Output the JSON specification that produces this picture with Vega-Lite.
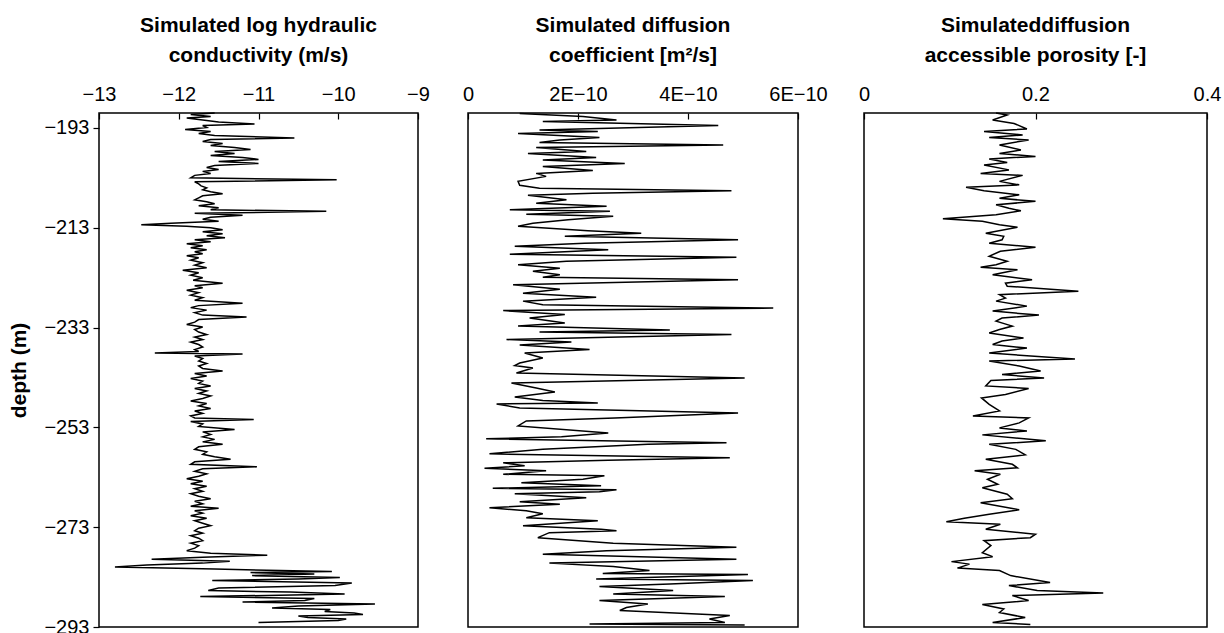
{
 "$schema": "https://vega.github.io/schema/vega-lite/v6.json",
 "padding": {"left": 8, "top": 14, "right": 0, "bottom": 5},
 "background": "white",
 "config": {
  "font": "Liberation Sans",
  "view": {"stroke": "black", "strokeWidth": 1.5},
  "axis": {"domain": false, "grid": false, "labelFont": "Liberation Sans", "labelFontSize": 20, "labelColor": "black", "tickColor": "black", "tickWidth": 1.2, "titleFont": "Liberation Sans", "titleFontSize": 21, "titleFontWeight": "bold", "titleColor": "black", "labelFlush": false, "labelOverlap": false},
  "title": {"font": "Liberation Sans", "fontSize": 21, "fontWeight": "bold", "color": "black", "lineHeight": 30, "anchor": "middle", "offset": 18}
 },
 "datasets": {
  "k": [
   {"depth": -190.0, "value": -11.55}, {"depth": -190.3, "value": -11.85}, {"depth": -190.7, "value": -11.6}, {"depth": -191.0, "value": -11.9}, {"depth": -191.4, "value": -11.7}, {"depth": -191.8, "value": -11.5}, {"depth": -192.2, "value": -11.05}, {"depth": -192.5, "value": -11.7}, {"depth": -192.9, "value": -11.65}, {"depth": -193.3, "value": -11.92}, {"depth": -193.7, "value": -11.6}, {"depth": -194.1, "value": -11.75}, {"depth": -194.5, "value": -11.55}, {"depth": -195.0, "value": -10.55}, {"depth": -195.3, "value": -11.6}, {"depth": -195.7, "value": -11.7}, {"depth": -196.1, "value": -11.45}, {"depth": -196.5, "value": -11.6}, {"depth": -196.9, "value": -11.3}, {"depth": -197.3, "value": -11.1}, {"depth": -197.7, "value": -11.55}, {"depth": -198.1, "value": -11.3}, {"depth": -198.5, "value": -11.6}, {"depth": -198.9, "value": -11.2}, {"depth": -199.3, "value": -11.0}, {"depth": -199.7, "value": -11.5}, {"depth": -200.1, "value": -11.0}, {"depth": -200.5, "value": -11.55}, {"depth": -200.9, "value": -11.65}, {"depth": -201.3, "value": -11.5}, {"depth": -201.7, "value": -11.7}, {"depth": -202.1, "value": -11.6}, {"depth": -202.5, "value": -11.8}, {"depth": -203.0, "value": -11.85}, {"depth": -203.4, "value": -10.02}, {"depth": -203.8, "value": -11.8}, {"depth": -204.2, "value": -11.75}, {"depth": -204.6, "value": -11.72}, {"depth": -205.0, "value": -11.65}, {"depth": -205.4, "value": -11.7}, {"depth": -205.8, "value": -11.6}, {"depth": -206.2, "value": -11.45}, {"depth": -206.6, "value": -11.7}, {"depth": -207.0, "value": -11.75}, {"depth": -207.4, "value": -11.8}, {"depth": -207.8, "value": -11.65}, {"depth": -208.2, "value": -11.55}, {"depth": -208.6, "value": -11.75}, {"depth": -209.0, "value": -11.5}, {"depth": -209.4, "value": -11.6}, {"depth": -209.7, "value": -10.15}, {"depth": -210.1, "value": -11.8}, {"depth": -210.5, "value": -11.2}, {"depth": -210.9, "value": -11.6}, {"depth": -211.3, "value": -11.7}, {"depth": -211.7, "value": -11.5}, {"depth": -212.1, "value": -12.1}, {"depth": -212.4, "value": -12.47}, {"depth": -212.7, "value": -11.9}, {"depth": -213.0, "value": -11.6}, {"depth": -213.4, "value": -11.45}, {"depth": -213.8, "value": -11.7}, {"depth": -214.2, "value": -11.45}, {"depth": -214.6, "value": -11.65}, {"depth": -215.0, "value": -11.42}, {"depth": -215.4, "value": -11.8}, {"depth": -215.8, "value": -11.6}, {"depth": -216.2, "value": -11.9}, {"depth": -216.6, "value": -11.7}, {"depth": -217.0, "value": -11.85}, {"depth": -217.4, "value": -11.65}, {"depth": -217.8, "value": -11.8}, {"depth": -218.2, "value": -11.7}, {"depth": -218.6, "value": -11.9}, {"depth": -219.0, "value": -11.75}, {"depth": -219.5, "value": -11.85}, {"depth": -220.0, "value": -11.7}, {"depth": -220.5, "value": -11.8}, {"depth": -221.0, "value": -11.65}, {"depth": -221.5, "value": -11.95}, {"depth": -222.0, "value": -11.75}, {"depth": -222.5, "value": -11.85}, {"depth": -223.0, "value": -11.7}, {"depth": -223.5, "value": -11.82}, {"depth": -224.1, "value": -11.45}, {"depth": -224.6, "value": -11.8}, {"depth": -225.0, "value": -11.7}, {"depth": -225.5, "value": -11.9}, {"depth": -226.0, "value": -11.75}, {"depth": -226.5, "value": -11.85}, {"depth": -227.0, "value": -11.7}, {"depth": -227.5, "value": -11.8}, {"depth": -228.1, "value": -11.2}, {"depth": -228.6, "value": -11.75}, {"depth": -229.0, "value": -11.85}, {"depth": -229.5, "value": -11.65}, {"depth": -230.0, "value": -11.8}, {"depth": -230.5, "value": -11.7}, {"depth": -230.9, "value": -11.15}, {"depth": -231.4, "value": -11.75}, {"depth": -231.9, "value": -11.8}, {"depth": -232.4, "value": -11.9}, {"depth": -232.9, "value": -11.7}, {"depth": -233.4, "value": -11.8}, {"depth": -233.9, "value": -11.75}, {"depth": -234.4, "value": -11.65}, {"depth": -234.9, "value": -11.8}, {"depth": -235.4, "value": -11.7}, {"depth": -235.9, "value": -11.85}, {"depth": -236.4, "value": -11.75}, {"depth": -236.9, "value": -11.7}, {"depth": -237.4, "value": -11.8}, {"depth": -237.8, "value": -11.75}, {"depth": -238.1, "value": -12.3}, {"depth": -238.3, "value": -11.2}, {"depth": -238.7, "value": -11.8}, {"depth": -239.2, "value": -11.7}, {"depth": -239.7, "value": -11.75}, {"depth": -240.2, "value": -11.65}, {"depth": -240.7, "value": -11.75}, {"depth": -241.2, "value": -11.7}, {"depth": -241.7, "value": -11.45}, {"depth": -242.2, "value": -11.8}, {"depth": -242.7, "value": -11.65}, {"depth": -243.2, "value": -11.85}, {"depth": -243.7, "value": -11.7}, {"depth": -244.2, "value": -11.75}, {"depth": -244.7, "value": -11.6}, {"depth": -245.2, "value": -11.8}, {"depth": -245.7, "value": -11.65}, {"depth": -246.2, "value": -11.75}, {"depth": -246.7, "value": -11.6}, {"depth": -247.2, "value": -11.7}, {"depth": -247.7, "value": -11.85}, {"depth": -248.2, "value": -11.65}, {"depth": -248.7, "value": -11.75}, {"depth": -249.2, "value": -11.6}, {"depth": -249.7, "value": -11.8}, {"depth": -250.2, "value": -11.7}, {"depth": -250.7, "value": -11.85}, {"depth": -251.1, "value": -11.8}, {"depth": -251.4, "value": -11.06}, {"depth": -251.8, "value": -11.85}, {"depth": -252.3, "value": -11.7}, {"depth": -252.8, "value": -11.75}, {"depth": -253.4, "value": -11.3}, {"depth": -253.9, "value": -11.7}, {"depth": -254.4, "value": -11.6}, {"depth": -254.9, "value": -11.7}, {"depth": -255.4, "value": -11.55}, {"depth": -255.9, "value": -11.7}, {"depth": -256.4, "value": -11.45}, {"depth": -256.9, "value": -11.75}, {"depth": -257.4, "value": -11.8}, {"depth": -257.9, "value": -11.65}, {"depth": -258.4, "value": -11.7}, {"depth": -258.9, "value": -11.55}, {"depth": -259.4, "value": -11.35}, {"depth": -259.9, "value": -11.8}, {"depth": -260.4, "value": -11.85}, {"depth": -260.9, "value": -11.02}, {"depth": -261.3, "value": -11.7}, {"depth": -261.8, "value": -11.8}, {"depth": -262.3, "value": -11.65}, {"depth": -262.8, "value": -11.75}, {"depth": -263.3, "value": -11.9}, {"depth": -263.8, "value": -11.7}, {"depth": -264.3, "value": -11.85}, {"depth": -264.8, "value": -11.65}, {"depth": -265.3, "value": -11.8}, {"depth": -265.8, "value": -11.7}, {"depth": -266.3, "value": -11.85}, {"depth": -266.8, "value": -11.75}, {"depth": -267.3, "value": -11.6}, {"depth": -267.8, "value": -11.8}, {"depth": -268.3, "value": -11.7}, {"depth": -268.8, "value": -11.85}, {"depth": -269.2, "value": -11.5}, {"depth": -269.7, "value": -11.8}, {"depth": -270.2, "value": -11.7}, {"depth": -270.7, "value": -11.85}, {"depth": -271.2, "value": -11.65}, {"depth": -271.7, "value": -11.8}, {"depth": -272.2, "value": -11.7}, {"depth": -272.7, "value": -11.6}, {"depth": -273.2, "value": -11.75}, {"depth": -273.7, "value": -11.8}, {"depth": -274.2, "value": -11.7}, {"depth": -274.7, "value": -11.85}, {"depth": -275.2, "value": -11.75}, {"depth": -275.7, "value": -11.7}, {"depth": -276.2, "value": -11.85}, {"depth": -276.7, "value": -11.75}, {"depth": -277.2, "value": -11.8}, {"depth": -277.7, "value": -11.9}, {"depth": -278.2, "value": -11.6}, {"depth": -278.6, "value": -10.89}, {"depth": -279.0, "value": -11.7}, {"depth": -279.4, "value": -12.34}, {"depth": -279.8, "value": -11.36}, {"depth": -280.2, "value": -11.7}, {"depth": -280.6, "value": -12.4}, {"depth": -281.0, "value": -12.8}, {"depth": -281.4, "value": -11.55}, {"depth": -281.9, "value": -10.08}, {"depth": -282.1, "value": -11.1}, {"depth": -282.4, "value": -10.3}, {"depth": -282.7, "value": -11.08}, {"depth": -283.1, "value": -9.98}, {"depth": -283.4, "value": -10.5}, {"depth": -283.7, "value": -11.58}, {"depth": -284.2, "value": -9.83}, {"depth": -284.7, "value": -10.04}, {"depth": -285.2, "value": -11.5}, {"depth": -285.7, "value": -11.63}, {"depth": -286.0, "value": -10.6}, {"depth": -286.4, "value": -9.92}, {"depth": -286.9, "value": -11.73}, {"depth": -287.3, "value": -10.3}, {"depth": -287.7, "value": -10.42}, {"depth": -288.0, "value": -11.2}, {"depth": -288.4, "value": -9.54}, {"depth": -288.8, "value": -10.5}, {"depth": -289.2, "value": -10.83}, {"depth": -289.5, "value": -10.1}, {"depth": -289.9, "value": -10.17}, {"depth": -290.2, "value": -9.8}, {"depth": -290.5, "value": -9.69}, {"depth": -290.8, "value": -10.5}, {"depth": -291.1, "value": -10.38}, {"depth": -291.4, "value": -9.9}, {"depth": -291.7, "value": -10.0}, {"depth": -292.1, "value": -11.0}
  ],
  "dc": [
   {"depth": -190.1, "value": 0.94e-10}, {"depth": -190.7, "value": 2.09e-10}, {"depth": -191.4, "value": 2.70e-10}, {"depth": -191.7, "value": 1.36e-10}, {"depth": -192.5, "value": 4.55e-10}, {"depth": -193.4, "value": 1.3e-10}, {"depth": -193.7, "value": 2.36e-10}, {"depth": -194.1, "value": 0.91e-10}, {"depth": -194.9, "value": 2.39e-10}, {"depth": -195.4, "value": 1.67e-10}, {"depth": -195.9, "value": 1.3e-10}, {"depth": -196.4, "value": 4.64e-10}, {"depth": -196.9, "value": 1.24e-10}, {"depth": -197.7, "value": 2.15e-10}, {"depth": -198.1, "value": 1.09e-10}, {"depth": -198.9, "value": 2.33e-10}, {"depth": -199.4, "value": 1.36e-10}, {"depth": -200.1, "value": 2.85e-10}, {"depth": -200.7, "value": 1.36e-10}, {"depth": -201.5, "value": 2.27e-10}, {"depth": -202.1, "value": 1.24e-10}, {"depth": -202.7, "value": 1.42e-10}, {"depth": -203.7, "value": 0.91e-10}, {"depth": -204.5, "value": 0.94e-10}, {"depth": -205.1, "value": 1.3e-10}, {"depth": -205.6, "value": 4.79e-10}, {"depth": -206.1, "value": 2.27e-10}, {"depth": -206.5, "value": 1.09e-10}, {"depth": -207.4, "value": 1.79e-10}, {"depth": -208.1, "value": 1.24e-10}, {"depth": -208.7, "value": 2.52e-10}, {"depth": -209.4, "value": 0.76e-10}, {"depth": -209.7, "value": 2.58e-10}, {"depth": -210.3, "value": 1.06e-10}, {"depth": -210.7, "value": 2.64e-10}, {"depth": -211.4, "value": 1.82e-10}, {"depth": -212.1, "value": 1.18e-10}, {"depth": -212.7, "value": 0.91e-10}, {"depth": -213.6, "value": 2.18e-10}, {"depth": -214.1, "value": 3.15e-10}, {"depth": -214.7, "value": 1.76e-10}, {"depth": -215.4, "value": 4.91e-10}, {"depth": -216.1, "value": 2.12e-10}, {"depth": -216.7, "value": 0.85e-10}, {"depth": -217.4, "value": 2.55e-10}, {"depth": -218.3, "value": 0.76e-10}, {"depth": -218.9, "value": 4.88e-10}, {"depth": -219.7, "value": 1.79e-10}, {"depth": -220.4, "value": 0.91e-10}, {"depth": -221.1, "value": 1.67e-10}, {"depth": -221.7, "value": 1.18e-10}, {"depth": -222.4, "value": 1.67e-10}, {"depth": -222.9, "value": 1.36e-10}, {"depth": -223.4, "value": 4.91e-10}, {"depth": -224.4, "value": 0.82e-10}, {"depth": -225.3, "value": 1.67e-10}, {"depth": -226.1, "value": 1.0e-10}, {"depth": -226.9, "value": 2.33e-10}, {"depth": -227.7, "value": 1.0e-10}, {"depth": -228.4, "value": 1.36e-10}, {"depth": -229.1, "value": 5.55e-10}, {"depth": -229.6, "value": 0.64e-10}, {"depth": -230.4, "value": 1.76e-10}, {"depth": -231.1, "value": 1.12e-10}, {"depth": -232.1, "value": 1.76e-10}, {"depth": -232.7, "value": 0.91e-10}, {"depth": -233.5, "value": 3.67e-10}, {"depth": -233.9, "value": 1.3e-10}, {"depth": -234.4, "value": 4.79e-10}, {"depth": -235.4, "value": 0.7e-10}, {"depth": -235.9, "value": 1.88e-10}, {"depth": -236.5, "value": 0.94e-10}, {"depth": -237.4, "value": 2.21e-10}, {"depth": -238.1, "value": 1.03e-10}, {"depth": -239.1, "value": 1.36e-10}, {"depth": -240.1, "value": 0.94e-10}, {"depth": -240.6, "value": 0.85e-10}, {"depth": -241.1, "value": 1.18e-10}, {"depth": -242.1, "value": 0.88e-10}, {"depth": -243.1, "value": 5.03e-10}, {"depth": -244.1, "value": 0.79e-10}, {"depth": -245.1, "value": 1.24e-10}, {"depth": -245.9, "value": 1.58e-10}, {"depth": -246.9, "value": 0.85e-10}, {"depth": -247.6, "value": 1.36e-10}, {"depth": -248.1, "value": 2.36e-10}, {"depth": -248.3, "value": 0.52e-10}, {"depth": -249.1, "value": 0.94e-10}, {"depth": -250.1, "value": 4.91e-10}, {"depth": -251.1, "value": 2.67e-10}, {"depth": -251.7, "value": 1.06e-10}, {"depth": -252.7, "value": 0.91e-10}, {"depth": -254.1, "value": 2.55e-10}, {"depth": -254.9, "value": 1.7e-10}, {"depth": -255.3, "value": 0.33e-10}, {"depth": -256.1, "value": 4.7e-10}, {"depth": -256.4, "value": 3.27e-10}, {"depth": -257.4, "value": 1.36e-10}, {"depth": -258.3, "value": 0.39e-10}, {"depth": -259.1, "value": 4.76e-10}, {"depth": -259.6, "value": 2.55e-10}, {"depth": -260.1, "value": 0.64e-10}, {"depth": -260.7, "value": 1.03e-10}, {"depth": -261.2, "value": 0.3e-10}, {"depth": -261.7, "value": 1.42e-10}, {"depth": -262.4, "value": 0.64e-10}, {"depth": -262.7, "value": 2.48e-10}, {"depth": -263.4, "value": 2.09e-10}, {"depth": -264.1, "value": 0.97e-10}, {"depth": -264.7, "value": 2.42e-10}, {"depth": -265.2, "value": 0.45e-10}, {"depth": -265.5, "value": 2.7e-10}, {"depth": -265.9, "value": 2.39e-10}, {"depth": -266.3, "value": 0.85e-10}, {"depth": -267.1, "value": 2.15e-10}, {"depth": -267.9, "value": 0.94e-10}, {"depth": -268.4, "value": 1.67e-10}, {"depth": -269.1, "value": 0.39e-10}, {"depth": -269.7, "value": 1.06e-10}, {"depth": -270.3, "value": 1.36e-10}, {"depth": -271.1, "value": 1.06e-10}, {"depth": -271.7, "value": 2.36e-10}, {"depth": -272.7, "value": 1.0e-10}, {"depth": -273.4, "value": 2.42e-10}, {"depth": -273.7, "value": 2.7e-10}, {"depth": -274.1, "value": 1.48e-10}, {"depth": -275.1, "value": 1.27e-10}, {"depth": -276.2, "value": 2.64e-10}, {"depth": -277.0, "value": 4.88e-10}, {"depth": -277.7, "value": 2.52e-10}, {"depth": -278.4, "value": 1.36e-10}, {"depth": -279.4, "value": 4.88e-10}, {"depth": -280.2, "value": 1.48e-10}, {"depth": -280.9, "value": 2.64e-10}, {"depth": -281.7, "value": 3.3e-10}, {"depth": -282.3, "value": 2.45e-10}, {"depth": -282.5, "value": 5.09e-10}, {"depth": -283.4, "value": 2.33e-10}, {"depth": -283.7, "value": 5.18e-10}, {"depth": -284.4, "value": 3.67e-10}, {"depth": -284.9, "value": 2.39e-10}, {"depth": -285.7, "value": 3.73e-10}, {"depth": -286.4, "value": 2.64e-10}, {"depth": -286.9, "value": 4.67e-10}, {"depth": -287.7, "value": 2.39e-10}, {"depth": -288.4, "value": 3.27e-10}, {"depth": -289.1, "value": 2.88e-10}, {"depth": -289.7, "value": 2.76e-10}, {"depth": -290.7, "value": 4.76e-10}, {"depth": -291.4, "value": 4.39e-10}, {"depth": -292.1, "value": 4.67e-10}, {"depth": -292.4, "value": 2.21e-10}, {"depth": -292.6, "value": 5.03e-10}
  ],
  "por": [
   {"depth": -190.0, "value": 0.154}, {"depth": -190.4, "value": 0.167}, {"depth": -191.4, "value": 0.15}, {"depth": -192.1, "value": 0.175}, {"depth": -193.2, "value": 0.19}, {"depth": -193.7, "value": 0.14}, {"depth": -194.4, "value": 0.185}, {"depth": -194.9, "value": 0.146}, {"depth": -195.4, "value": 0.192}, {"depth": -196.4, "value": 0.158}, {"depth": -197.4, "value": 0.183}, {"depth": -198.1, "value": 0.158}, {"depth": -198.7, "value": 0.2}, {"depth": -199.2, "value": 0.146}, {"depth": -199.9, "value": 0.167}, {"depth": -200.4, "value": 0.14}, {"depth": -201.4, "value": 0.169}, {"depth": -202.1, "value": 0.136}, {"depth": -202.5, "value": 0.185}, {"depth": -203.7, "value": 0.158}, {"depth": -204.4, "value": 0.181}, {"depth": -204.9, "value": 0.119}, {"depth": -205.6, "value": 0.14}, {"depth": -206.4, "value": 0.181}, {"depth": -207.1, "value": 0.158}, {"depth": -207.7, "value": 0.2}, {"depth": -208.4, "value": 0.154}, {"depth": -209.1, "value": 0.169}, {"depth": -209.6, "value": 0.183}, {"depth": -210.4, "value": 0.154}, {"depth": -211.2, "value": 0.092}, {"depth": -211.7, "value": 0.138}, {"depth": -212.4, "value": 0.158}, {"depth": -212.9, "value": 0.179}, {"depth": -214.1, "value": 0.142}, {"depth": -214.7, "value": 0.163}, {"depth": -215.4, "value": 0.161}, {"depth": -216.1, "value": 0.146}, {"depth": -216.9, "value": 0.2}, {"depth": -217.7, "value": 0.159}, {"depth": -218.7, "value": 0.146}, {"depth": -219.7, "value": 0.167}, {"depth": -220.4, "value": 0.154}, {"depth": -220.9, "value": 0.136}, {"depth": -221.4, "value": 0.179}, {"depth": -222.4, "value": 0.15}, {"depth": -223.4, "value": 0.196}, {"depth": -224.1, "value": 0.165}, {"depth": -224.7, "value": 0.167}, {"depth": -225.7, "value": 0.25}, {"depth": -226.4, "value": 0.158}, {"depth": -227.1, "value": 0.165}, {"depth": -227.7, "value": 0.154}, {"depth": -228.7, "value": 0.19}, {"depth": -229.7, "value": 0.15}, {"depth": -230.5, "value": 0.204}, {"depth": -231.1, "value": 0.161}, {"depth": -231.7, "value": 0.154}, {"depth": -232.7, "value": 0.173}, {"depth": -233.4, "value": 0.158}, {"depth": -234.1, "value": 0.146}, {"depth": -235.1, "value": 0.186}, {"depth": -235.7, "value": 0.161}, {"depth": -236.4, "value": 0.15}, {"depth": -237.1, "value": 0.19}, {"depth": -238.1, "value": 0.146}, {"depth": -239.3, "value": 0.246}, {"depth": -239.7, "value": 0.146}, {"depth": -240.7, "value": 0.181}, {"depth": -241.7, "value": 0.206}, {"depth": -242.4, "value": 0.161}, {"depth": -243.1, "value": 0.21}, {"depth": -243.6, "value": 0.148}, {"depth": -244.7, "value": 0.142}, {"depth": -245.2, "value": 0.192}, {"depth": -246.4, "value": 0.165}, {"depth": -247.1, "value": 0.137}, {"depth": -248.4, "value": 0.146}, {"depth": -249.7, "value": 0.158}, {"depth": -250.7, "value": 0.127}, {"depth": -251.1, "value": 0.192}, {"depth": -252.1, "value": 0.181}, {"depth": -253.1, "value": 0.158}, {"depth": -253.7, "value": 0.19}, {"depth": -254.5, "value": 0.138}, {"depth": -255.7, "value": 0.212}, {"depth": -256.4, "value": 0.146}, {"depth": -257.4, "value": 0.177}, {"depth": -258.5, "value": 0.188}, {"depth": -259.4, "value": 0.142}, {"depth": -260.4, "value": 0.173}, {"depth": -261.1, "value": 0.179}, {"depth": -261.7, "value": 0.129}, {"depth": -262.4, "value": 0.159}, {"depth": -263.4, "value": 0.144}, {"depth": -264.4, "value": 0.156}, {"depth": -265.1, "value": 0.138}, {"depth": -266.4, "value": 0.167}, {"depth": -267.3, "value": 0.173}, {"depth": -268.1, "value": 0.136}, {"depth": -269.5, "value": 0.181}, {"depth": -270.4, "value": 0.146}, {"depth": -271.2, "value": 0.117}, {"depth": -271.9, "value": 0.096}, {"depth": -272.4, "value": 0.159}, {"depth": -273.4, "value": 0.142}, {"depth": -274.4, "value": 0.2}, {"depth": -275.1, "value": 0.194}, {"depth": -275.7, "value": 0.14}, {"depth": -276.7, "value": 0.148}, {"depth": -278.1, "value": 0.138}, {"depth": -278.9, "value": 0.15}, {"depth": -279.9, "value": 0.102}, {"depth": -280.4, "value": 0.123}, {"depth": -281.2, "value": 0.109}, {"depth": -281.7, "value": 0.158}, {"depth": -282.7, "value": 0.171}, {"depth": -284.1, "value": 0.217}, {"depth": -284.7, "value": 0.169}, {"depth": -285.7, "value": 0.202}, {"depth": -286.2, "value": 0.279}, {"depth": -286.7, "value": 0.173}, {"depth": -287.7, "value": 0.192}, {"depth": -288.5, "value": 0.138}, {"depth": -289.4, "value": 0.163}, {"depth": -290.1, "value": 0.158}, {"depth": -291.1, "value": 0.188}, {"depth": -292.1, "value": 0.15}, {"depth": -292.5, "value": 0.194}
  ]
 },
 "spacing": 29,
 "hconcat": [
  {
   "spacing": 50,
   "bounds": "flush",
   "hconcat": [
    {
     "title": {"text": ["Simulated log hydraulic", "conductivity (m/s)"]},
     "width": 319, "height": 514,
     "data": {"name": "k"},
     "mark": {"type": "line", "color": "black", "strokeWidth": 1.5},
     "encoding": {
      "x": {"field": "value", "type": "quantitative", "scale": {"domain": [-13, -9], "nice": false, "zero": false},
            "axis": {"orient": "top", "title": null, "values": [-13, -12, -11, -10, -9], "format": "d", "tickSize": -6, "labelPadding": 15}},
      "y": {"field": "depth", "type": "quantitative", "scale": {"domain": [-293, -190], "nice": false, "zero": false},
            "axis": {"title": "depth (m)", "values": [-193, -213, -233, -253, -273, -293], "format": "d", "tickSize": 6, "labelPadding": 4, "titlePadding": 14}},
      "order": {"field": "depth", "type": "quantitative"}
     }
    },
    {
     "title": {"text": ["Simulated diffusion", "coefficient [m²/s]"]},
     "width": 330, "height": 514,
     "data": {"name": "dc"},
     "mark": {"type": "line", "color": "black", "strokeWidth": 1.5},
     "encoding": {
      "x": {"field": "value", "type": "quantitative", "scale": {"domain": [0, 6e-10], "nice": false, "zero": false},
            "axis": {"orient": "top", "title": null, "values": [0, 2e-10, 4e-10, 6e-10], "labelExpr": "datum.value == 0 ? '0' : round(datum.value * 1e10) + 'E\u221210'", "tickSize": -6, "labelPadding": 15}},
      "y": {"field": "depth", "type": "quantitative", "scale": {"domain": [-293, -190], "nice": false, "zero": false}, "axis": null},
      "order": {"field": "depth", "type": "quantitative"}
     }
    }
   ]
  },
  {
   "title": {"text": ["Simulateddiffusion", "accessible porosity [-]"]},
   "width": 343, "height": 514,
   "data": {"name": "por"},
   "mark": {"type": "line", "color": "black", "strokeWidth": 1.5},
   "encoding": {
    "x": {"field": "value", "type": "quantitative", "scale": {"domain": [0, 0.4], "nice": false, "zero": false},
          "axis": {"orient": "top", "title": null, "values": [0, 0.2, 0.4], "labelExpr": "datum.value == 0 ? '0' : format(datum.value, '.1f')", "tickSize": -6, "labelPadding": 15}},
    "y": {"field": "depth", "type": "quantitative", "scale": {"domain": [-293, -190], "nice": false, "zero": false}, "axis": null},
    "order": {"field": "depth", "type": "quantitative"}
   }
  }
 ]
}
